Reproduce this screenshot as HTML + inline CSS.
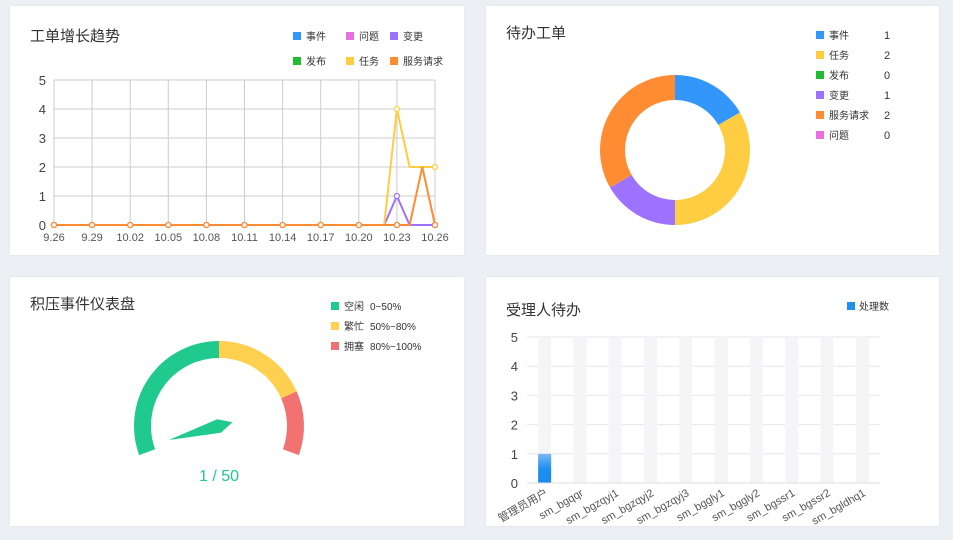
<!DOCTYPE html>
<html><head><meta charset="utf-8">
<style>
body{margin:0;width:953px;height:540px;background:#eceff4;font-family:"Liberation Sans","Noto Sans CJK SC",sans-serif;overflow:hidden;position:relative}
.panel{position:absolute;background:#fff;box-shadow:0 0 2px rgba(0,0,0,0.08)}
svg{position:absolute;left:0;top:0}
text{font-family:"Liberation Sans","Noto Sans CJK SC",sans-serif}
</style></head><body>
<div class="panel" style="left:10px;top:6px;width:454px;height:249px"></div>
<div class="panel" style="left:486px;top:6px;width:453px;height:249px"></div>
<div class="panel" style="left:10px;top:277px;width:454px;height:249px"></div>
<div class="panel" style="left:486px;top:277px;width:453px;height:249px"></div>
<svg id="s" width="953" height="540"></svg>
<script>
// ===== Line chart data =====
const lineDates = ['9.26','9.27','9.28','9.29','9.30','10.01','10.02','10.03','10.04','10.05','10.06','10.07','10.08','10.09','10.10','10.11','10.12','10.13','10.14','10.15','10.16','10.17','10.18','10.19','10.20','10.21','10.22','10.23','10.24','10.25','10.26'];
const lineYTicks = [0,1,2,3,4,5];
const seriesNames = ['事件','问题','变更','发布','任务','服务请求'];
const seriesColors = ['#3296fa','#e86fe0','#9d72ff','#22bb33','#ffcd42','#ff8c33'];
const sEvent   = [0,0,0,0,0,0,0,0,0,0,0,0,0,0,0,0,0,0,0,0,0,0,0,0,0,0,0,0,0,0,0];
const sProblem = [0,0,0,0,0,0,0,0,0,0,0,0,0,0,0,0,0,0,0,0,0,0,0,0,0,0,0,0,0,0,0];
const sChange  = [0,0,0,0,0,0,0,0,0,0,0,0,0,0,0,0,0,0,0,0,0,0,0,0,0,0,0,1,0,0,0];
const sRelease = [0,0,0,0,0,0,0,0,0,0,0,0,0,0,0,0,0,0,0,0,0,0,0,0,0,0,0,0,0,0,0];
const sTask    = [0,0,0,0,0,0,0,0,0,0,0,0,0,0,0,0,0,0,0,0,0,0,0,0,0,0,0,4,2,2,2];
const sService = [0,0,0,0,0,0,0,0,0,0,0,0,0,0,0,0,0,0,0,0,0,0,0,0,0,0,0,0,0,2,0];
// ===== Donut data =====
const donutNames = ['事件','任务','发布','变更','服务请求','问题'];
const donutValues = [1,2,0,1,2,0];
const donutColors = ['#3296fa','#ffcd42','#22bb33','#9d72ff','#ff8c33','#e86fe0'];
// ===== Gauge data =====
const gaugeValue = 1, gaugeMax = 50;
const gaugeBands = [0.5,0.8,1.0];
const gaugeBandNames = ['空闲','繁忙','拥塞'];
const gaugeBandLabels = ['0~50%','50%~80%','80%~100%'];
const gaugeColors = ['#20c98e','#ffd050','#f27171'];
// ===== Bar data =====
const barCats = ['管理员用户','sm_bgqqr','sm_bgzqyj1','sm_bgzqyj2','sm_bgzqyj3','sm_bggly1','sm_bggly2','sm_bgssr1','sm_bgssr2','sm_bgldhq1'];
const barValues = [1,0,0,0,0,0,0,0,0,0];
const barYTicks = [0,1,2,3,4,5];

const S=document.getElementById('s');const NS='http://www.w3.org/2000/svg';
function el(t,a,txt){const e=document.createElementNS(NS,t);for(const k in a)e.setAttribute(k,a[k]);if(txt!==undefined)e.textContent=txt;S.appendChild(e);return e;}
function title(x,y,t,n){const e=el('text',{x:x,y:y,'font-size':15,fill:'#333'},t);}
title(30,41,'工单增长趋势','trend-title');title(506,38,'待办工单','pending-title');title(30,309,'积压事件仪表盘','gauge-title');title(506,315,'受理人待办','assignee-title');

// ---- line chart ----
const lx0=54,lx1=435,ly0=225,ly1=80;
const lxs=i=>lx0+(lx1-lx0)*i/(lineDates.length-1);
const lys=v=>ly0-(ly0-ly1)*v/5;
lineDates.forEach((d,i)=>{if(i%3)return;const x=lxs(i);
 const g=el('line',{x1:x,x2:x,y1:ly1,y2:ly0,stroke:'#ccc','stroke-width':1});
 const t=el('text',{x:x,y:ly0+16,'font-size':11,fill:'#555','text-anchor':'middle'},d);});
lineYTicks.forEach(v=>{const y=lys(v);
 const g=el('line',{x1:lx0,x2:lx1,y1:y,y2:y,stroke:'#ccc','stroke-width':1});
 const t=el('text',{x:lx0-8,y:y+5,'font-size':13,fill:'#444','text-anchor':'end'},v);});
const allSeries=[sEvent,sProblem,sChange,sRelease,sTask,sService];
[0,1,3,2,4,5].forEach(si=>{const d=allSeries[si];
 const p=el('polyline',{points:d.map((v,i)=>lxs(i)+','+lys(v)).join(' '),fill:'none',stroke:seriesColors[si],'stroke-width':2});
 
 d.forEach((v,i)=>{if(i%3&&!(i===27))return;const c=el('circle',{cx:lxs(i),cy:lys(v),r:2.5,fill:'#fff',stroke:seriesColors[si],'stroke-width':1.2});});});
const legPos=[[293,36],[346,36],[390,36],[293,61],[346,61],[390,61]];
seriesNames.forEach((n,i)=>{const [x,y]=legPos[i];
 const r=el('rect',{x:x,y:y-4,width:8,height:8,fill:seriesColors[i]});
 const t=el('text',{x:x+13,y:y+4,'font-size':10,fill:'#333'},n);});

// ---- donut ----
const cx=675,cy=150,ro=75,ri=50;const tot=donutValues.reduce((a,b)=>a+b,0);let acc=0;
function pt(r,a){return [cx+r*Math.sin(a),cy-r*Math.cos(a)];}
donutValues.forEach((v,i)=>{if(!v)return;const a0=acc/tot*2*Math.PI;acc+=v;const a1=acc/tot*2*Math.PI;const lg=(a1-a0)>Math.PI?1:0;
 const [x0,y0]=pt(ro,a0),[x1,y1]=pt(ro,a1),[x2,y2]=pt(ri,a1),[x3,y3]=pt(ri,a0);
 const p=el('path',{d:`M${x0},${y0}A${ro},${ro} 0 ${lg} 1 ${x1},${y1}L${x2},${y2}A${ri},${ri} 0 ${lg} 0 ${x3},${y3}Z`,fill:donutColors[i]});
 });
donutNames.forEach((n,i)=>{const y=35+20*i;
 const r=el('rect',{x:816,y:y-4,width:8,height:8,fill:donutColors[i]});
 const t=el('text',{x:829,y:y+4,'font-size':10,fill:'#333'},n);
 const t2=el('text',{x:884,y:y+4,'font-size':11,fill:'#333'},donutValues[i]);});

// ---- gauge ----
const gx=219,gy=426,gr=76.5,gw=17,sa=200,sw=220;
const gang=f=>(sa-sw*f)*Math.PI/180;
const gp=(r,a)=>[gx+r*Math.cos(a),gy-r*Math.sin(a)];
let pf=0;gaugeBands.forEach((f,i)=>{const [x0,y0]=gp(gr,gang(pf)),[x1,y1]=gp(gr,gang(f));const lg=(f-pf)*sw>180?1:0;
 const p=el('path',{d:`M${x0},${y0}A${gr},${gr} 0 ${lg} 1 ${x1},${y1}`,fill:'none',stroke:gaugeColors[i],'stroke-width':gw});
 pf=f;});
const na=gang(gaugeValue/gaugeMax);const [tx,ty]=gp(52,na);
const ux=Math.cos(na),uy=-Math.sin(na);const pxv=-uy,pyv=ux;
const bx=gx-ux*14,by=gy-uy*14;
const nd=el('polygon',{points:`${tx},${ty} ${gx+pxv*7},${gy+pyv*7} ${bx},${by} ${gx-pxv*7},${gy-pyv*7}`,fill:'#20c98e'});

const gv=el('text',{x:gx,y:481,'font-size':16,fill:'#20c98e','text-anchor':'middle'},gaugeValue+' / '+gaugeMax);
gaugeBandNames.forEach((n,i)=>{const y=306+20*i;
 const r=el('rect',{x:331,y:y-4,width:8,height:8,fill:gaugeColors[i]});
 const t=el('text',{x:344,y:y+4,'font-size':10,fill:'#333'},n);
 const t2=el('text',{x:370,y:y+4,'font-size':10,fill:'#333'},gaugeBandLabels[i]);});

// ---- bar chart ----
const bx0=527,bx1=880,by0=483,by1=337;const bw=(bx1-bx0)/barCats.length;
const bys=v=>by0-(by0-by1)*v/5;
barYTicks.forEach(v=>{const y=bys(v);
 const g=el('line',{x1:bx0,x2:bx1,y1:y,y2:y,stroke:'#e6e6ee','stroke-width':1});
 const t=el('text',{x:bx0-9,y:y+5,'font-size':13,fill:'#444','text-anchor':'end'},v);});
barCats.forEach((c,i)=>{const x=bx0+bw*(i+0.5);
 const sh=el('rect',{x:x-6.5,y:by1,width:13,height:by0-by1,fill:'#f5f5f7'});
 if(barValues[i]>0){const b=el('rect',{x:x-6.5,y:bys(barValues[i]),width:13,height:by0-bys(barValues[i]),fill:'url(#bg)'});}
 const t=el('text',{x:x+4,y:by0+12,'font-size':11,fill:'#555','text-anchor':'end',transform:`rotate(-30 ${x+4} ${by0+12})`},c);});
const defs=document.createElementNS(NS,'defs');defs.innerHTML='<linearGradient id="bg" x1="0" y1="0" x2="0" y2="1"><stop offset="0" stop-color="#7db8f5"/><stop offset="0.5" stop-color="#1f8ff0"/><stop offset="1" stop-color="#1a8af0"/></linearGradient>';S.appendChild(defs);
const ax=el('line',{x1:bx0,x2:bx1,y1:by0,y2:by0,stroke:'#ddd','stroke-width':1});
const lr=el('rect',{x:847,y:302,width:8,height:8,fill:'#1f8ff0'});
const lt=el('text',{x:859,y:310,'font-size':10,fill:'#333'},'处理数');
</script>
</body></html>
